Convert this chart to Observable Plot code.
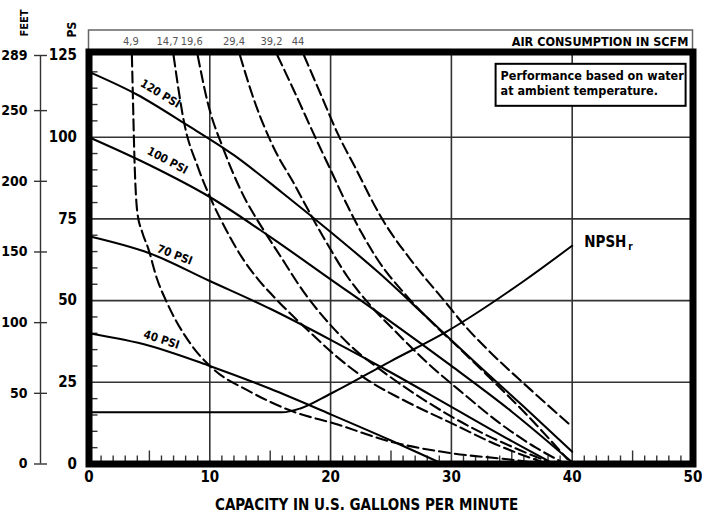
<!DOCTYPE html>
<html><head><meta charset="utf-8">
<script src="https://cdn.jsdelivr.net/npm/d3@7"></script>
<script src="https://cdn.jsdelivr.net/npm/@observablehq/plot@0.6"></script>
<style>
body{margin:0;background:#fff;}
#chart{position:relative;width:702px;height:519px;}
</style></head><body><div id="chart"></div>
<script>
// ---------- data ----------
const gpmTicks = [0, 10, 20, 30, 40, 50];
const psiTicks = [0, 25, 50, 75, 100, 125];
const feetTicks = [0, 50, 100, 150, 200, 250, 289];
const FT_PER_PSI = 289 / 125;

// pressure curves [gpm, psi]
const psi120 = [[0,120],[4,113],[8,104],[12,94.5],[16,83],[20,71],[24,58.5],[28,44.8],[32,31],[36,17.5],[40,3.75]];
const psi100 = [[0,100],[5,91.5],[10,81.7],[15,69.5],[20,56.5],[25,43.5],[30,30],[35,16],[40,0.5]];
const psi70  = [[0,69.7],[5,64.5],[10,56],[15,47.5],[20,38],[25,28],[30,17.5],[35,7],[38.5,0]];
const psi40  = [[0,40],[5,36.2],[10,30],[15,23],[20,15.2],[25,7.2],[29.3,0]];
const pressureNames = ["120 PSI", "100 PSI", "70 PSI", "40 PSI"];
const pressureLabelAt = [5.9, 6.5, 7.1, 6.0];   // gpm where label sits

// air consumption curves (SCFM) [gpm, psi]
const scfm4_9  = [[3.55,125],[3.65,110],[3.75,95],[4.0,77],[4.4,71],[4.9,66],[5.6,57],[6.5,49],[8.4,36.8],[10.4,28.7],[13.1,22.6],[17,15.9],[20.3,12.4],[25,6.8],[30,3.3],[35,1.3],[37.7,0]];
const scfm14_7 = [[7,125],[7.9,104],[9,91],[10.1,81],[11.3,72],[12.7,63],[14,56.5],[15.6,50],[18.1,41],[20.3,33.5],[23.1,25.6],[25.8,20],[30,12.5],[34,5.5],[38,0]];
const scfm19_6 = [[9,125],[9.8,111],[11.2,95.7],[12.6,83.5],[14.5,71.3],[15.6,65],[18,51.5],[20,42.5],[22,35],[24,29.2],[28,19],[32,10.5],[35.5,4.5],[38.5,0]];
const scfm29_4 = [[12.5,125],[13.7,111],[15.3,96.7],[17,85.6],[18.4,76],[19.5,68.8],[21.4,57.3],[23.3,48.5],[25.3,40.8],[28,31],[31,21.5],[34,12.5],[37,5],[39.2,0.5]];
const scfm39_2 = [[15.6,125],[17,114],[18.6,101],[20,90],[21.4,79],[22.6,70.5],[23.9,62.5],[26.4,51],[28.9,41.5],[30.2,37],[33,27],[36,16],[39.6,1.5]];
const scfm44   = [[17.8,125],[19.2,113],[20.6,101],[22,91],[24.2,75.4],[26.9,61.2],[29.4,50],[31.3,41.5],[33,35],[36.6,22.6],[40,11.4]];
const scfmLabels = ["4,9", "14,7", "19,6", "29,4", "39,2", "44"];

// NPSHr curve [gpm, psi]
const npshr = [[0,15.8],[16,15.8],[17.5,17],[20,21.5],[25,31.5],[29.6,40.5],[36,56],[40,66.8]];

// ---------- build ----------
const FONT = "'Liberation Sans Narrow','Arial Narrow','DejaVu Sans Condensed','Liberation Sans',sans-serif";
const rows = (name, pts) => pts.map(([gpm, psi]) => ({name, gpm, psi}));
const pressure = [psi120, psi100, psi70, psi40];
const scfm = [scfm4_9, scfm14_7, scfm19_6, scfm29_4, scfm39_2, scfm44];
const solidData = pressure.flatMap((c, i) => rows(pressureNames[i], c));
const dashData = scfm.flatMap((c, i) => rows(scfmLabels[i], c));
const npshData = rows("NPSHr", npshr);
const interp = (pts, x) => {
  for (let i = 1; i < pts.length; i++) if (x <= pts[i][0]) {
    const [x0, y0] = pts[i-1], [x1, y1] = pts[i];
    return y0 + (y1 - y0) * (x - x0) / (x1 - x0);
  }
  return pts[pts.length-1][1];
};
const pLabels = pressureNames.map((n, i) => ({n, gpm: pressureLabelAt[i], psi: interp(pressure[i], pressureLabelAt[i])}));
const rot = [31, 28, 21, 18], lift = [-15, -14, -10, -10];
const topLabels = scfm.map((c, i) => ({t: scfmLabels[i], gpm: c[0][0], psi: c[0][1]}));
const topDx = [-1, -6, -6, -6, -6, -6];

const minorX = d3.range(0, 51).filter(d => d % 5 !== 0);
const midX = [5, 15, 25, 35, 45];
const minorY = d3.range(5, 125, 5).filter(d => d % 25 !== 0);

const plot = Plot.plot({
  width: 702, height: 519,
  marginLeft: 88.5, marginRight: 9.5, marginTop: 55, marginBottom: 55.5,
  x: {domain: [0, 50]}, y: {domain: [0, 125]},
  style: {fontFamily: FONT, background: "white", color: "black"},
  marks: [
    Plot.gridX([10, 20, 30, 40], {stroke: "#333", strokeOpacity: 1, strokeWidth: 1.6}),
    Plot.gridY([25, 50, 75, 100], {stroke: "#333", strokeOpacity: 1, strokeWidth: 1.6}),
    Plot.axisX(minorX, {anchor: "bottom", tickSize: -8, tickFormat: () => "", label: null, strokeWidth: 1.4, stroke: "#333"}),
    Plot.axisX(midX, {anchor: "bottom", tickSize: -13, tickFormat: () => "", label: null, strokeWidth: 1.4, stroke: "#333"}),
    Plot.axisY(minorY, {anchor: "left", tickSize: -9, tickFormat: () => "", label: null, strokeWidth: 1.4, stroke: "#333"}),
    Plot.line(npshData, {x: "gpm", y: "psi", stroke: "black", strokeWidth: 2, curve: "monotone-x"}),
    Plot.line(dashData, {x: "gpm", y: "psi", z: "name", stroke: "black", strokeWidth: 2.1, strokeDasharray: "11,5", curve: "monotone-x"}),
    Plot.line(solidData, {x: "gpm", y: "psi", z: "name", stroke: "black", strokeWidth: 2.1, curve: "monotone-x"}),
    ...pLabels.map((d, i) => Plot.text([d], {x: "gpm", y: "psi", text: "n", rotate: rot[i], dy: lift[i], fontSize: 11.5, fontWeight: "bold", fill: "black"})),
    ...topLabels.map((d, i) => Plot.text([d], {x: "gpm", y: "psi", text: "t", dy: -14, dx: topDx[i], fontSize: 11, fill: "#555"})),
    Plot.text(npshr.slice(-1), {x: d => d[0], y: d => d[1], text: () => "NPSH", textAnchor: "start", dx: 12, dy: -4, fontSize: 15, fontWeight: "bold"}),
    Plot.text(npshr.slice(-1), {x: d => d[0], y: d => d[1], text: () => "r", textAnchor: "start", dx: 56, dy: 1, fontSize: 10, fontWeight: "bold"}),
    Plot.frame({stroke: "black", strokeWidth: 7, insetTop: -3.5}),
    Plot.axisX(gpmTicks, {anchor: "bottom", tickSize: 0, tickPadding: 7, fontSize: 15, fontWeight: "bold", label: null}),
    Plot.axisY(psiTicks, {anchor: "left", tickSize: 0, tickPadding: 12, fontSize: 15, fontWeight: "bold", label: null}),
    Plot.ruleX([0], {y1: 0, y2: 125, dx: -48.5, stroke: "#333", strokeWidth: 1.4}),
    Plot.axisY(feetTicks.map(f => f / FT_PER_PSI), {anchor: "left", dx: -41.5, tickSize: 13, tickPadding: 7, tickFormat: d => Math.round(d * FT_PER_PSI), fontSize: 14, fontWeight: "bold", label: null, stroke: "#333", strokeWidth: 1.4}),
    Plot.text(["CAPACITY IN U.S. GALLONS PER MINUTE"], {frameAnchor: "bottom-left", textAnchor: "start", dx: 126, dy: 46, fontSize: 15, fontWeight: "bold"}),
    Plot.text(["FEET"], {frameAnchor: "top-left", rotate: -90, dx: -69, dy: -19, fontSize: 11, fontWeight: "bold"}),
    Plot.text(["PS"], {frameAnchor: "top-left", rotate: -90, dx: -22, dy: -18, fontSize: 12, fontWeight: "bold"})
  ]
});

const svg = d3.select(plot);
const xs = plot.scale("x"), ys = plot.scale("y");
const xa = xs.apply(0), xb = xs.apply(50), yt = ys.apply(125);
// air consumption strip (drawn beneath the frame)
const strip = svg.insert("g", ":first-child");
strip.append("rect").attr("x", xa).attr("y", yt - 25).attr("width", xb - xa).attr("height", 22)
  .attr("fill", "none").attr("stroke", "#666").attr("stroke-width", 1.5);
svg.append("text").attr("x", xb - 4).attr("y", yt - 9).attr("text-anchor", "end")
  .attr("font-family", FONT).attr("font-weight", "bold").attr("font-size", 12.5)
  .text("AIR CONSUMPTION IN SCFM");
// note box
const nx = xs.apply(33.7), ny = ys.apply(122.3);
const note = svg.append("g").attr("text-anchor", "start");
note.append("rect").attr("x", nx).attr("y", ny).attr("width", 190).attr("height", 42)
  .attr("fill", "white").attr("stroke", "black").attr("stroke-width", 2);
note.append("text").attr("x", nx + 5).attr("y", ny + 16).attr("font-family", FONT)
  .attr("font-weight", "bold").attr("font-size", 12.5).text("Performance based on water");
note.append("text").attr("x", nx + 5).attr("y", ny + 31).attr("font-family", FONT)
  .attr("font-weight", "bold").attr("font-size", 12.5).text("at ambient temperature.");

document.getElementById("chart").appendChild(plot);
</script></body></html>
